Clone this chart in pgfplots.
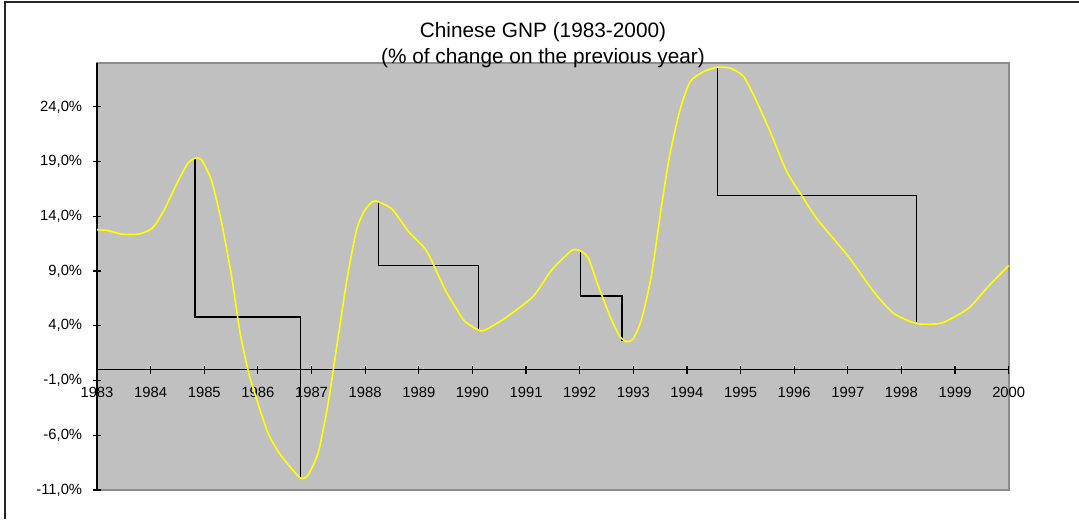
\documentclass[border=0pt]{standalone}
\usepackage{fontspec}
\setmainfont{Liberation Sans}
\usepackage{pgfplots}
\pgfplotsset{compat=1.18}

\definecolor{plotgray}{HTML}{C0C0C0}
\definecolor{framegray}{HTML}{8C8C8C}
\definecolor{gnpyellow}{HTML}{FFFF00}

% yearly GNP change
\pgfplotstableread{
x y
1983.00 12.77
1983.20 12.70
1983.46 12.37
1983.77 12.37
1983.99 12.77
1984.11 13.40
1984.27 14.75
1984.49 17.00
1984.69 18.80
1984.83 19.30
1984.95 19.16
1985.14 17.20
1985.32 13.50
1985.51 8.50
1985.67 3.30
1985.83 -0.33
1986.00 -3.07
1986.19 -5.80
1986.38 -7.50
1986.57 -8.70
1986.80 -9.93
1986.94 -9.60
1987.13 -7.50
1987.31 -3.07
1987.47 2.10
1987.66 8.20
1987.84 12.77
1988.00 14.60
1988.18 15.40
1988.50 14.66
1988.81 12.60
1989.15 10.80
1989.49 7.30
1989.72 5.40
1989.86 4.40
1990.11 3.60
1990.23 3.60
1990.61 4.70
1991.13 6.67
1991.48 9.10
1991.85 10.87
1992.00 10.87
1992.16 10.20
1992.35 7.60
1992.57 4.84
1992.75 3.00
1992.88 2.56
1993.00 2.80
1993.16 4.70
1993.34 8.65
1993.53 15.05
1993.68 19.60
1993.87 23.70
1994.06 26.30
1994.31 27.20
1994.55 27.60
1994.80 27.55
1995.05 26.80
1995.27 24.80
1995.55 21.75
1995.86 18.10
1996.17 15.66
1996.45 13.60
1997.01 10.33
1997.48 7.13
1997.85 5.15
1998.25 4.24
1998.50 4.15
1998.78 4.30
1999.25 5.60
1999.62 7.60
2000.00 9.50
}\gnpdata

\begin{document}
\begin{tikzpicture}
% chart frame (only left and top edges visible)
\draw[line width=1pt, black!85] (2.5pt,0pt) -- (2.5pt,258.6pt) -- (539.5pt,258.6pt);

\node[anchor=base, font=\fontsize{10.4}{12}\selectfont] at (271.5pt,240.85pt) {Chinese GNP (1983-2000)};

\begin{axis}[
    at={(48.5pt,14.5pt)}, anchor=south west,
    scale only axis,
    width=455.85pt, height=213.5pt,
    xmin=1983, xmax=2000,
    ymin=-11, ymax=28,
    axis x line*=middle,
    axis y line*=left,
    hide obscured x ticks=false,
    hide obscured y ticks=false,
    axis line style={black, line width=0.6pt},
    axis background/.style={fill=plotgray, draw=framegray, line width=0.8pt},
    xtick align=center,
    ytick align=center,
    major tick length=4pt,
    tick style={black, line width=0.6pt},
    xtick={1983,1984,1985,1986,1987,1988,1989,1990,1991,1992,1993,1994,1995,1996,1997,1998,1999,2000},
    xticklabels={1983,1984,1985,1986,1987,1988,1989,1990,1991,1992,1993,1994,1995,1996,1997,1998,1999,2000},
    ytick={-11,-6,-1,4,9,14,19,24},
    yticklabels={{-11,0\%},{-6,0\%},{-1,0\%},{4,0\%},{9,0\%},{14,0\%},{19,0\%},{24,0\%}},
    ticklabel style={font=\fontsize{7.4}{8.5}\selectfont},
    xticklabel style={yshift=-3.5pt},
    yticklabel style={xshift=-1.9pt},
    clip=false,
]
% steps between peaks and troughs
\addplot[black, line width=0.7pt, mark=none] coordinates {
    (1984.83,19.30) (1984.83,4.79) (1986.80,4.79) (1986.80,-9.93)
};
\addplot[black, line width=0.7pt, mark=none] coordinates {
    (1988.25,15.35) (1988.25,9.48) (1990.11,9.48) (1990.11,3.63)
};
\addplot[black, line width=0.7pt, mark=none] coordinates {
    (1992.01,10.87) (1992.01,6.73) (1992.79,6.73) (1992.79,2.65)
};
\addplot[black, line width=0.7pt, mark=none] coordinates {
    (1994.57,27.60) (1994.57,15.90) (1998.28,15.90) (1998.28,4.30)
};
% GNP curve
\addplot[gnpyellow, line width=0.8pt, mark=none, smooth, tension=0.4] table[x=x, y=y] {\gnpdata};
\end{axis}

% second title line overlaps the plot area, as in the original
\node[anchor=base, font=\fontsize{10.4}{12}\selectfont] at (271.5pt,227.85pt) {(\% of change on the previous year)};

\pgfresetboundingbox
\path[use as bounding box] (0pt,0pt) rectangle (539.5pt,259.5pt);
\end{tikzpicture}
\end{document}
